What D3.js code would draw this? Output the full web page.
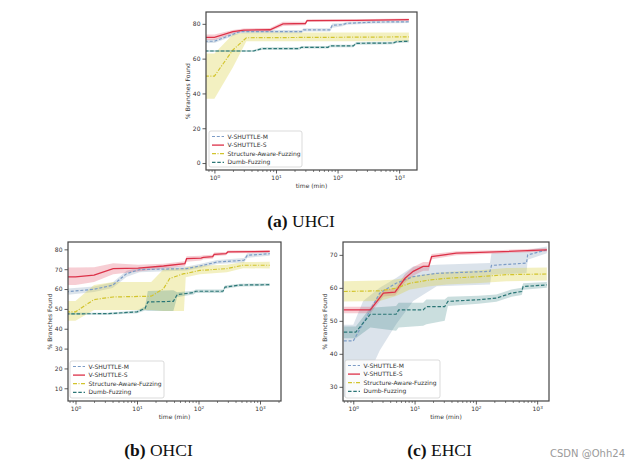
<!DOCTYPE html>
<html><head><meta charset="utf-8">
<script src="https://cdn.jsdelivr.net/npm/d3@7"></script>
<style>body{margin:0;background:#fff} svg{display:block}</style>
</head><body><svg id="c" width="631" height="465"></svg>
<script>
// ---------- data: each point is [time (min), mean %, low %, high %] ----------
const seriesNames = ["V-SHUTTLE-M", "V-SHUTTLE-S", "Structure-Aware-Fuzzing", "Dumb-Fuzzing"];
const xTickValues = [1, 10, 100, 1000];
const xTickExponents = ["0", "1", "2", "3"];
const uhciYTicks = [0, 20, 40, 60, 80];
const ohciYTicks = [10, 20, 30, 40, 50, 60, 70, 80];
const ehciYTicks = [30, 40, 50, 60, 70];
const captions = [["(a)", " UHCI"], ["(b)", " OHCI"], ["(c)", " EHCI"]];

const uhciM = [[0.7,70,69,71.2],[1,70,69,71.2],[2.6,75.5,74.5,76.5],[26,75.5,74.6,76.4],[28,76.5,75.6,77.4],[75,76.5,75.6,77.4],[82,79.2,77.8,80.2],[120,79.5,78.6,80.4],[140,80.3,79.5,81.1],[400,81,80.2,81.7],[1440,81.2,80.5,81.9]];
const uhciS = [[0.7,72.2,70.7,73.8],[1,72.2,70.7,73.8],[2,75.5,74.5,76.5],[3,76.4,75.4,77.3],[8,76.6,75.6,77.6],[13,80,78.8,81.2],[30,80.2,79.2,81.2],[32,81.8,81,82.6],[200,82,81.3,82.7],[1440,82.4,81.7,83.1]];
const uhciA = [[0.7,50,37,63],[1,50,37,63],[2,65,55,74],[3.3,72,70,75],[1440,72.5,70,75]];
const uhciD = [[0.7,64.4,63.8,65],[4.3,64.4,63.8,65],[6,65.8,65.1,66.5],[24,65.8,65.1,66.5],[26,66.5,65.8,67.2],[70,66.5,65.8,67.2],[75,67.3,66.6,68],[180,67.3,66.6,68],[200,68.8,68,69.5],[800,69,68.3,69.7],[900,69.7,69,70.4],[1440,70,69.3,70.7]];

const ohciM = [[0.7,58.6,57,60.2],[2,59.9,58.5,61.3],[4,61.9,60.5,63.3],[6.8,67.8,66.2,69.2],[11,69.8,68.5,71],[64,70.3,69.3,71.3],[105,71.6,70.6,72.6],[200,73.6,72.6,74.6],[550,74.5,73.4,75.6],[620,77,75.8,78],[1440,77.8,76.8,78.8]];
const ohciS = [[0.7,66.1,62,70.8],[1,66.1,62,70.8],[2,67,63.5,71],[4.1,70.3,67.5,73],[10.5,70.5,68.8,72.2],[27,71.6,70.4,72.8],[60,72.8,71.5,74],[64,75.3,73.8,76.5],[110,75.6,74.4,76.8],[120,76,75,77],[170,76.3,75.2,77.3],[180,77.5,76.5,78.4],[280,77.8,77,78.6],[300,78.7,78,79.4],[1440,79,78.3,79.7]];
const ohciA = [[0.7,48.5,44,54],[1,48.5,44,54],[2,54.7,49.5,62],[4.1,56,49.5,63.5],[17,56.4,49.5,63.6],[27,60.2,49,70],[34,65.3,49,70.5],[58,67.8,49,70.5],[62,67.8,66,71],[105,69.4,67.5,71.7],[290,70.3,68.5,72.3],[530,72,70.5,73.6],[1440,72,70.3,73.7]];
const ohciD = [[0.7,47.5,47,48],[3.4,47.6,47.1,48.1],[10,48.5,47.8,49.2],[13.5,50.2,49.2,51.2],[15,53.5,49,59],[39,53.8,49,59.4],[45,57.2,56,58.4],[83,58.2,57.2,59.2],[90,58.9,58,59.8],[250,58.9,58,59.8],[270,61,60.2,61.8],[470,62,61.3,62.7],[1440,62.2,61.5,62.9]];

const ehciM = [[0.7,43.9,27,48.8],[1,43.9,27,48.8],[1.45,49.3,30,56],[2.7,58.4,41,60],[5,61.4,49,63],[9.5,63.4,56,66.5],[23,64.4,60.5,67],[170,65,61,67.5],[180,66.8,64,70.5],[670,67.5,64.5,71],[700,70,68.5,71.5],[1440,71.5,70.5,72.5]];
const ehciS = [[0.7,53.3,52.3,54.3],[1.9,53.3,52.3,54.3],[3.1,58.4,57.4,59.4],[4.8,58.7,57.7,59.7],[7,62.9,61.6,64.2],[9.5,65,63.7,66.3],[13.8,66.5,65.2,67.8],[17,66.5,65.2,67.8],[19,69.5,68.7,70.3],[48,70.5,69.9,71.1],[280,71,70.5,71.5],[1440,71.5,71,72]];
const ehciA = [[0.7,58.9,55.9,62],[2.7,59.1,56,62.2],[5,59.9,57.5,62.5],[8.4,61.4,59.5,63.4],[17.8,62.4,60.5,64.3],[33,62.9,61,64.8],[116,63.4,61.5,65.3],[316,64,62,66],[1440,64.2,62.2,66.2]];
const ehciD = [[0.7,46.6,44.7,48.3],[1.1,46.6,44.7,48.3],[1.9,52,48,54],[5,52,47,54.5],[5.5,53.3,48,55.5],[13.8,53.3,48.5,55.5],[15.6,54.3,49,56.5],[31,54.3,50,56.5],[35,55.9,54.5,57.3],[110,56.4,55.2,57.6],[216,56.9,55.8,58],[380,58.4,57.3,59.5],[560,58.9,57.8,60],[590,60.4,59.4,61.4],[1440,60.9,60,61.8]];

// ---------- styles ----------
const colors = ["#7c9cc6", "#dc3148", "#d2c42c", "#2b7676"];
const fills = ["rgba(110,145,175,0.25)", "rgba(225,60,85,0.25)", "rgba(215,205,50,0.3)", "rgba(45,125,125,0.25)"];
const dashes = ["3,1.8", null, "4,1.5,1,1.5", "3.5,1.8"];

const panels = [
  {key:"a", data:[uhciM,uhciS,uhciA,uhciD], x0:206, x1:417, y0:12, y1:170, xdom:[0.73,1950], ydom:[-4.0,86.8], yticks:uhciYTicks, leg:[209,131,93,36], cap:[301,227]},
  {key:"b", data:[ohciM,ohciS,ohciA,ohciD], x0:68, x1:281, y0:242, y1:401, xdom:[0.755,2195], ydom:[3.6,83.7], yticks:ohciYTicks, leg:[70,361,94,37], cap:[158.5,456]},
  {key:"c", data:[ehciM,ehciS,ehciA,ehciD], x0:343, x1:549, y0:242, y1:401, xdom:[0.68,1560], ydom:[25.7,73.9], yticks:ehciYTicks, leg:[345,360,95,38], cap:[439.5,456]}
];

const svg = d3.select("#c");
const font = "DejaVu Sans, sans-serif";
const minorTicks = [];
[0.1,1,10,100,1000].forEach(d => { for (let k = 2; k <= 9; k++) minorTicks.push(d*k); });

panels.forEach((p, pi) => {
  const x = d3.scaleLog().domain(p.xdom).range([p.x0, p.x1]);
  const y = d3.scaleLinear().domain(p.ydom).range([p.y1, p.y0]);
  const g = svg.append("g");
  const clipId = "clip" + p.key;
  svg.append("clipPath").attr("id", clipId).append("rect")
    .attr("x", p.x0).attr("y", p.y0).attr("width", p.x1 - p.x0).attr("height", p.y1 - p.y0);
  const plot = g.append("g").attr("clip-path", `url(#${clipId})`);
  const area = d3.area().x(d => x(d[0])).y0(d => y(d[2])).y1(d => y(d[3]));
  const line = d3.line().x(d => x(d[0])).y(d => y(d[1]));
  p.data.forEach((s, i) => plot.append("path").attr("d", area(s)).attr("fill", fills[i]));
  p.data.forEach((s, i) => plot.append("path").attr("d", line(s)).attr("fill", "none")
    .attr("stroke", colors[i]).attr("stroke-width", i === 1 ? 1.3 : 1.2)
    .attr("stroke-dasharray", dashes[i]));

  // x axis
  const xMinor = minorTicks.filter(v => v >= p.xdom[0] && v <= p.xdom[1]);
  g.append("g").attr("transform", `translate(0,${p.y1})`)
    .call(d3.axisBottom(x).tickValues(xMinor).tickSize(2).tickFormat(""))
    .call(a => a.select(".domain").remove())
    .call(a => a.selectAll("line").attr("stroke", "#333").attr("stroke-width", 0.6));
  const xa = g.append("g").attr("transform", `translate(0,${p.y1})`)
    .call(d3.axisBottom(x).tickValues(xTickValues).tickSize(3.5).tickPadding(2).tickFormat(""))
    .call(a => a.select(".domain").remove())
    .call(a => a.selectAll("line").attr("stroke", "#333").attr("stroke-width", 0.8));
  xa.selectAll(".tick text").each(function(d, i) {
    const t = d3.select(this).attr("font-family", font).attr("font-size", 6).attr("fill", "#333");
    t.append("tspan").text("10");
    t.append("tspan").attr("dy", "-0.45em").attr("font-size", 4.2).text(xTickExponents[i]);
  });
  g.append("text").attr("x", (p.x0 + p.x1) / 2).attr("y", p.y1 + 17.5)
    .attr("text-anchor", "middle").attr("font-family", font).attr("font-size", 6).attr("fill", "#333")
    .text("time (min)");

  // y axis
  g.append("g").attr("transform", `translate(${p.x0},0)`)
    .call(d3.axisLeft(y).tickValues(p.yticks).tickSize(3.5).tickPadding(2))
    .call(a => a.select(".domain").remove())
    .call(a => a.selectAll("line").attr("stroke", "#333").attr("stroke-width", 0.8))
    .call(a => a.selectAll("text").attr("font-family", font).attr("font-size", 6).attr("fill", "#333"));
  g.append("text").attr("transform", `translate(${p.x0 - 16},${(p.y0 + p.y1) / 2}) rotate(-90)`)
    .attr("text-anchor", "middle").attr("font-family", font).attr("font-size", 6).attr("fill", "#333")
    .text("% Branches Found");

  // frame
  g.append("rect").attr("x", p.x0).attr("y", p.y0).attr("width", p.x1 - p.x0).attr("height", p.y1 - p.y0)
    .attr("fill", "none").attr("stroke", "#444").attr("stroke-width", 1.2);

  // legend
  const [lx, ly, lw, lh] = p.leg;
  const lg = g.append("g");
  lg.append("rect").attr("x", lx).attr("y", ly).attr("width", lw).attr("height", lh).attr("rx", 2)
    .attr("fill", "rgba(255,255,255,0.85)").attr("stroke", "#ccc").attr("stroke-width", 0.7);
  seriesNames.forEach((name, i) => {
    const yy = ly + 5.5 + i * 8.6;
    lg.append("line").attr("x1", lx + 3).attr("x2", lx + 15).attr("y1", yy).attr("y2", yy)
      .attr("stroke", colors[i]).attr("stroke-width", i === 1 ? 1.3 : 1.2).attr("stroke-dasharray", dashes[i]);
    lg.append("text").attr("x", lx + 18.5).attr("y", yy + 2.1).attr("font-family", font)
      .attr("font-size", 6).attr("fill", "#333").text(name);
  });

  // caption
  const cap = svg.append("text").attr("x", p.cap[0]).attr("y", p.cap[1]).attr("text-anchor", "middle")
    .attr("font-family", "Liberation Serif, serif").attr("font-size", 17.5).attr("fill", "#111");
  cap.append("tspan").attr("font-weight", "bold").text(captions[pi][0]);
  cap.append("tspan").text(captions[pi][1]);
});

svg.append("text").attr("x", 625).attr("y", 457).attr("text-anchor", "end")
  .attr("font-family", "DejaVu Sans, sans-serif").attr("font-size", 10).attr("fill", "#9a9a9a")
  .text("CSDN @Ohh24");
</script></body></html>
